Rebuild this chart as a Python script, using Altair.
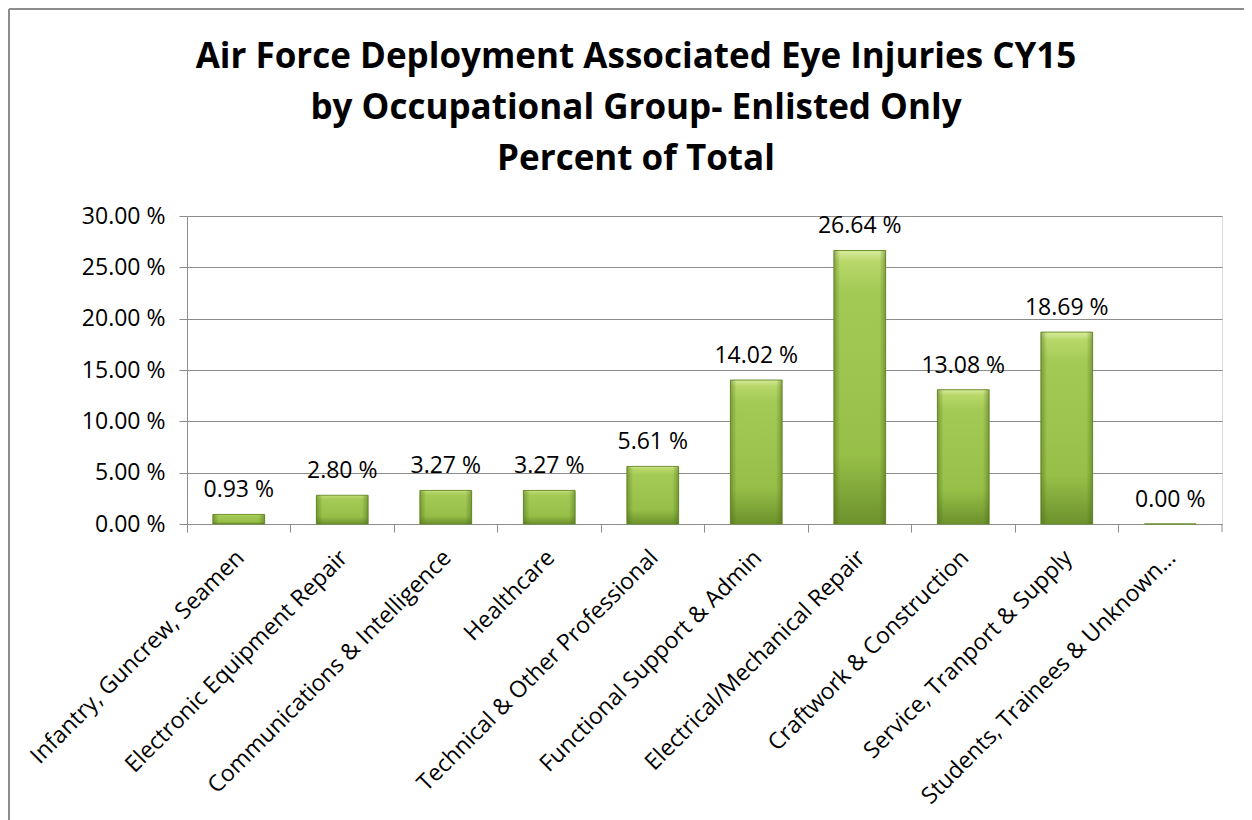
import altair as alt
import pandas as pd

categories = [
    "Infantry, Guncrew, Seamen",
    "Electronic Equipment Repair",
    "Communications & Intelligence",
    "Healthcare",
    "Technical & Other Professional",
    "Functional Support & Admin",
    "Electrical/Mechanical Repair",
    "Craftwork & Construction",
    "Service, Tranport & Supply",
    "Students, Trainees & Unknown\u2026",
]
percents = [0.93, 2.80, 3.27, 3.27, 5.61, 14.02, 26.64, 13.08, 18.69, 0.00]

df = pd.DataFrame({"cat": categories, "pct": percents})
df["label"] = [f"{v:.2f} %" for v in percents]

FONT = "Open Sans"
W, H = 1035, 308
GRAY = "#8c8c8c"

x_enc = alt.X(
    "cat:N",
    sort=categories,
    scale=alt.Scale(paddingInner=0, paddingOuter=0),
    axis=alt.Axis(
        title=None,
        labelAngle=-45,
        labelFont=FONT,
        labelFontSize=23,
        labelColor="#000000",
        labelLimit=500,
        labelPadding=14,
        labelOffset=-6,
        bandPosition=0,
        tickSize=8,
        tickColor=GRAY,
        domainColor=GRAY,
        grid=False,
    ),
)
y_enc = alt.Y(
    "pct:Q",
    scale=alt.Scale(domain=[0, 30], nice=False),
    axis=alt.Axis(
        title=None,
        values=[0, 5, 10, 15, 20, 25, 30],
        labelExpr="format(datum.value, '.2f') + ' %'",
        labelFont=FONT,
        labelFontSize=23,
        labelColor="#000000",
        labelPadding=14,
        tickSize=8,
        tickColor=GRAY,
        domainColor=GRAY,
        gridColor=GRAY,
        gridWidth=1,
    ),
)

base = alt.Chart(df)

bars = base.mark_bar(
    width=alt.RelativeBandSize(0.5),
    stroke="#6f9030",
    strokeWidth=1,
    fill=alt.Gradient(
        gradient="linear",
        x1=0, x2=0, y1=0, y2=1,
        stops=[
            alt.GradientStop(offset=0, color="#d8ec9c"),
            alt.GradientStop(offset=0.04, color="#b8d86a"),
            alt.GradientStop(offset=0.15, color="#a4ca56"),
            alt.GradientStop(offset=0.75, color="#96bf48"),
            alt.GradientStop(offset=1, color="#6c922c"),
        ],
    ),
).encode(x=x_enc, y=y_enc)

edges = base.mark_bar(
    width=alt.RelativeBandSize(0.5),
    fill=alt.Gradient(
        gradient="linear",
        x1=0, x2=1, y1=0, y2=0,
        stops=[
            alt.GradientStop(offset=0, color="rgba(70,100,20,0.45)"),
            alt.GradientStop(offset=0.12, color="rgba(70,100,20,0)"),
            alt.GradientStop(offset=0.88, color="rgba(70,100,20,0)"),
            alt.GradientStop(offset=1, color="rgba(70,100,20,0.45)"),
        ],
    ),
).encode(x=alt.X("cat:N", sort=categories), y="pct:Q")

labels = base.mark_text(
    font=FONT, fontSize=23, color="#000000", baseline="bottom", dy=-12
).encode(x=alt.X("cat:N", sort=categories), y="pct:Q", text="label:N")

frame_df = pd.DataFrame({"k": [0]})
frame_left = alt.Chart(frame_df).mark_rule(color=GRAY, strokeWidth=2).encode(
    x=alt.value(-178), y=alt.value(-207), y2=alt.value(620)
)
frame_top = alt.Chart(frame_df).mark_rule(color=GRAY, strokeWidth=2).encode(
    x=alt.value(-178), x2=alt.value(1100), y=alt.value(-207)
)
end_tick = alt.Chart(frame_df).mark_rule(color=GRAY, strokeWidth=1).encode(
    x=alt.value(W), y=alt.value(H), y2=alt.value(H + 8)
)

chart = (
    alt.layer(bars, edges, labels, frame_left, frame_top, end_tick)
    .properties(
        width=W,
        height=H,
        title=alt.TitleParams(
            text=[
                "Air Force Deployment Associated Eye Injuries CY15",
                "by Occupational Group- Enlisted Only",
                "Percent of Total",
            ],
            font=FONT,
            fontSize=35,
            fontWeight="bold",
            color="#000000",
            lineHeight=51,
            anchor="middle",
            frame="bounds",
            offset=-169,
            dx=-12,
        ),
        autosize=alt.AutoSizeParams(type="none"),
        padding={"left": 179, "top": 208, "right": 22, "bottom": 296},
    )
    .configure_view(strokeWidth=0, stroke="transparent")
    .configure(background="#ffffff")
)

chart.save("out.html", embed_options={"renderer": "svg", "actions": False})
